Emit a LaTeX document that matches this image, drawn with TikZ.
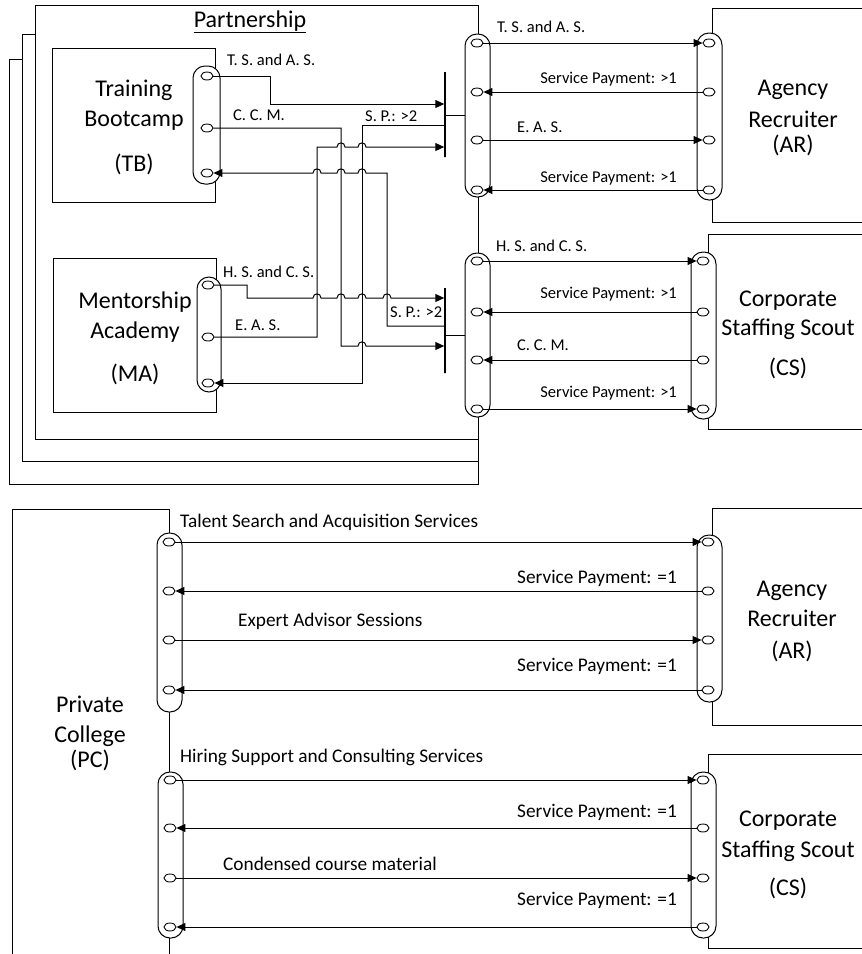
\documentclass[tikz,border=0pt]{standalone}
\usepackage{fontspec}
\setmainfont{Carlito}
\usetikzlibrary{arrows.meta,shapes.geometric,positioning}

% small bump where a line jumps over a vertical one
\newcommand{\hopr}[2]{-- (#1-4,#2) .. controls (#1-4,#2-5.5) and (#1+4,#2-5.5) .. (#1+4,#2)}
\newcommand{\hopl}[2]{-- (#1+4,#2) .. controls (#1+4,#2-5.5) and (#1-4,#2-5.5) .. (#1-4,#2)}

\begin{document}
\begin{tikzpicture}[
    x=1pt, y=-1pt,
    mybox/.style={
       draw, fill=white,
       rectangle,
       inner sep=0pt, outer sep=0pt,
       anchor=north west,
       line width=1pt},
    mybus/.style={
       draw, fill=white,
       rectangle, rounded corners=12pt,
       minimum width=25pt,
       inner sep=0pt,
       line width=1pt},
    myport/.style={
       draw, fill=white,
       ellipse,
       minimum width=12pt, minimum height=8pt,
       inner sep=0pt,
       line width=0.9pt},
    mybar/.style={draw, minimum width=0pt, inner sep=0pt, line width=1.5pt},
    myarrow/.style={-{Triangle[length=9pt,width=8pt]}, line width=1pt},
    bigtxt/.style={font=\fontsize{24}{30}\selectfont, align=center, inner sep=0pt},
    smalltxt/.style={font=\fontsize{16.5}{20}\selectfont, inner sep=0pt},
    midtxt/.style={font=\fontsize{19.3}{23}\selectfont, inner sep=0pt}
    ]
  \useasboundingbox (0,0) rectangle (862,954);
  \clip (0,0) rectangle (862,954);

  % partnership pages
  \node[mybox, minimum width=469pt, minimum height=425pt] (stack3) at (9,59) {};
  \node[mybox, minimum width=456pt, minimum height=427pt] (stack2) at (22,34) {};
  \node[mybox, minimum width=443pt, minimum height=434pt] (partner) at (35,5) {};
  \node[bigtxt, anchor=base] (ptitle) at (250,27) {Partnership};
  \draw[line width=1pt] ([yshift=-5pt]ptitle.base west) -- ([yshift=-5pt]ptitle.base east);

  \node[mybox, minimum width=163pt, minimum height=154pt] (tb) at (52,48) {};
  \node[bigtxt] (tbname) at (134,127.5) {Training\\Bootcamp\\[15pt](TB)};
  \node[mybox, minimum width=163pt, minimum height=154pt] (ma) at (53,258) {};
  \node[bigtxt] (maname) at (135,338) {Mentorship\\Academy\\[13pt](MA)};

  \node[mybus, minimum width=27pt, minimum height=118pt] (tbbus) at (206.5,125) {};
  \node[mybus, minimum width=24pt, minimum height=115pt] (mabus) at (209,334.5) {};
  \node[mybus, minimum height=163pt] (pbusA) at (477.5,115.5) {};
  \node[mybus, minimum height=164pt] (pbusB) at (477.5,335) {};

  \foreach \i/\y in {1/76,2/128,3/173}
    \node[myport] (tb\i) at (207,\y) {};
  \foreach \i/\y in {1/285,2/337,3/383}
    \node[myport] (ma\i) at (208,\y) {};
  \foreach \i/\y in {1/43,2/92,3/140,4/190}
    \node[myport] (pa\i) at (477,\y) {};
  \foreach \i/\y in {1/261,2/312,3/360,4/409}
    \node[myport] (pb\i) at (477,\y) {};

  % junctions in front of the outer buses
  \node[mybar, minimum height=85pt] (jtop) at (445,114.5) {};
  \node[mybar, minimum height=85pt] (jbot) at (445,330.5) {};
  \draw[line width=1pt] (jtop.center |- pbusA.west) -- (pbusA.west);
  \draw[line width=1pt] (jbot.center |- pbusB.west) -- (pbusB.west);

  \draw[myarrow] (tb1) -| (270,104) -- (jtop.west |- 0,104);
  \draw[myarrow] (ma2) -- (317,337) -- (317,147) \hopr{341}{147} \hopr{362}{147} -- (jtop.west |- 0,147);
  \draw[myarrow] (jtop.west |- 0,125) -- (362,125) -- (362,383) -- (ma3);
  \draw[myarrow] (tb2) -- (341,128) -- (341,346) \hopr{362}{346} -- (jbot.west |- 0,346);
  \draw[myarrow] (ma1) -| (247,298) \hopr{317}{298} \hopr{341}{298} \hopr{362}{298} \hopr{387}{298} -- (jbot.west |- 0,298);
  \draw[myarrow] (jbot.west |- 0,326) -- (387,326) -- (387,173) \hopl{362}{173} \hopl{341}{173} \hopl{317}{173} -- (tb3);

  \node[smalltxt, anchor=base west] (lts1) at (227,65) {T. S. and A. S.};
  \node[smalltxt, anchor=base west] (lccm1) at (233,120) {C. C. M.};
  \node[smalltxt, anchor=base west] (lsp1) at (365,121) {S. P.: >2};
  \node[smalltxt, anchor=base west] (lhs1) at (223,277) {H. S. and C. S.};
  \node[smalltxt, anchor=base west] (leas1) at (235,330) {E. A. S.};
  \node[smalltxt, anchor=base west] (lsp2) at (390,317) {S. P.: >2};

  % recruiters beside the partnership
  \node[mybox, minimum width=162pt, minimum height=214pt] (ar) at (712,8) {};
  \node[bigtxt] (arname) at (793,117.5) {Agency\\[2pt]Recruiter\\[-5pt](AR)};
  \node[mybus, minimum height=167pt] (arbus) at (709.5,116.5) {};
  \foreach \i/\y in {1/43,2/92,3/140,4/190}
    \node[myport] (ar\i) at (709,\y) {};

  \node[mybox, minimum width=160pt, minimum height=195pt] (cs) at (708,234) {};
  \node[bigtxt] (csname) at (788,334.5) {Corporate\\[-1pt]Staffing Scout\\[10pt](CS)};
  \node[mybus, minimum height=167pt] (csbus) at (703.5,335.5) {};
  \foreach \i/\y in {1/261,2/312,3/360,4/409}
    \node[myport] (cs\i) at (703,\y) {};

  \foreach \s/\t in {pa1/ar1,ar2/pa2,pa3/ar3,ar4/pa4,pb1/cs1,cs2/pb2,cs3/pb3,pb4/cs4}
    \draw[myarrow] (\s) -- (\t);

  \node[smalltxt, anchor=base west] (lts2) at (497,32) {T. S. and A. S.};
  \node[smalltxt, anchor=base west] (leas2) at (517,132) {E. A. S.};
  \node[smalltxt, anchor=base west] (lhs2) at (496,251) {H. S. and C. S.};
  \node[smalltxt, anchor=base west] (lccm2) at (517,350) {C. C. M.};
  \foreach \i/\y in {1/83,2/182,3/298,4/397}
    \node[smalltxt, anchor=base east] (lpay\i) at (677,\y) {Service Payment: >1};

  % private college
  \node[mybox, minimum width=157pt, minimum height=460pt] (pc) at (12,509) {};
  \node[bigtxt] (pcname) at (90,733.5) {Private\\College\\[-5pt](PC)};
  \node[mybus, minimum height=179pt] (pcbusA) at (169.5,622.5) {};
  \node[mybus, minimum height=166pt] (pcbusB) at (170.5,855) {};
  \foreach \i/\y in {1/542,2/591,3/640,4/690}
    \node[myport] (pca\i) at (169,\y) {};
  \foreach \i/\y in {1/780,2/828,3/878,4/927}
    \node[myport] (pcb\i) at (170,\y) {};

  \node[mybox, minimum width=160pt, minimum height=217pt] (arb) at (712,508) {};
  \node[bigtxt] (arbname) at (792,621) {Agency\\Recruiter\\[2pt](AR)};
  \node[mybus, minimum height=167pt] (arbbus) at (709.5,618.5) {};
  \foreach \i/\y in {1/542,2/591,3/640,4/690}
    \node[myport] (arb\i) at (708,\y) {};

  \node[mybox, minimum width=160pt, minimum height=194pt] (csb) at (708,754) {};
  \node[bigtxt] (csbname) at (788,854.5) {Corporate\\[1pt]Staffing Scout\\[8pt](CS)};
  \node[mybus, minimum height=166pt] (csbbus) at (703.5,855) {};
  \foreach \i/\y in {1/780,2/828,3/878,4/927}
    \node[myport] (csb\i) at (703,\y) {};

  \foreach \s/\t in {pca1/arb1,arb2/pca2,pca3/arb3,arb4/pca4,pcb1/csb1,csb2/pcb2,pcb3/csb3,csb4/pcb4}
    \draw[myarrow] (\s) -- (\t);

  \node[midtxt, anchor=base west] (ltalent) at (180,527) {Talent Search and Acquisition Services};
  \node[midtxt, anchor=base west] (lexpert) at (238,626) {Expert Advisor Sessions};
  \node[midtxt, anchor=base west] (lhiring) at (180,762) {Hiring Support and Consulting Services};
  \node[midtxt, anchor=base west] (lcourse) at (223,870) {Condensed course material};
  \foreach \i/\y in {5/583,6/671,7/817,8/905}
    \node[midtxt, anchor=base east] (lpay\i) at (677,\y) {Service Payment: =1};
\end{tikzpicture}
\end{document}
